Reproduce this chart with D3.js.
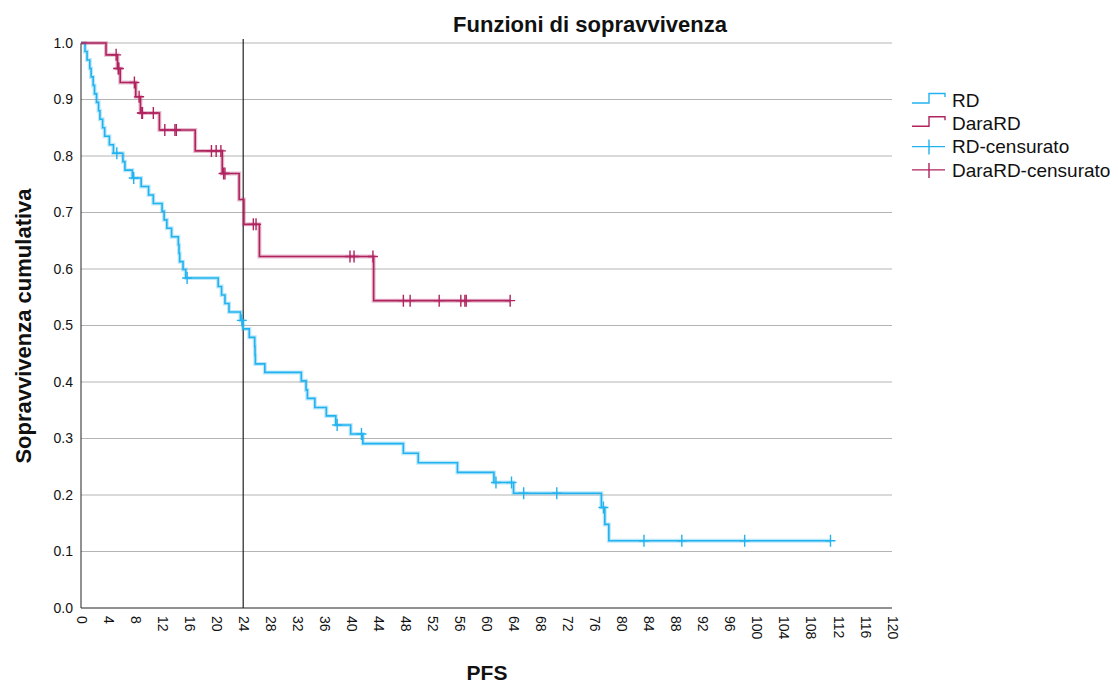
<!DOCTYPE html>
<html>
<head>
<meta charset="utf-8">
<script src="https://cdn.jsdelivr.net/npm/d3@7"></script>
<style>
  body { margin: 0; background: #fff; }
  #chart { width: 1118px; height: 684px; }
  text { font-family: "Liberation Sans", Arial, sans-serif; fill: #111; }
</style>
</head>
<body>
<div id="chart"></div>
<script>
"use strict";

// RD: Kaplan-Meier steps (time in months, cumulative survival after the step)
const rdTimes = [0, 0.6, 0.9, 1.3, 1.5, 1.8, 2.0, 2.3, 2.6, 2.8, 3.2, 3.5, 4.2, 4.8, 6.2, 6.5, 7.6, 8.9, 10.0, 10.7,
  12.0, 12.3, 12.7, 13.4, 14.4, 14.5, 14.6, 15.1, 15.5, 20.3, 20.8, 21.3, 21.9, 23.6, 24.0, 24.9, 25.7, 25.75, 25.8, 27.2,
  32.6, 33.3, 33.5, 34.6, 36.3, 37.7, 39.9, 41.7, 47.7, 49.9, 55.7, 61.1, 64.0, 77.0, 77.5, 78.1];
const rdSurv = [1.0, 0.985, 0.970, 0.955, 0.940, 0.925, 0.910, 0.895, 0.880, 0.865, 0.850, 0.835, 0.820, 0.805, 0.790, 0.775, 0.761, 0.746, 0.731, 0.716,
  0.702, 0.687, 0.672, 0.657, 0.643, 0.628, 0.613, 0.599, 0.584, 0.569, 0.554, 0.539, 0.524, 0.509, 0.494, 0.479, 0.463, 0.448, 0.432, 0.417,
  0.402, 0.386, 0.371, 0.355, 0.340, 0.324, 0.308, 0.291, 0.274, 0.257, 0.240, 0.222, 0.203, 0.178, 0.148, 0.119];
const rdCensored = [5.3, 7.8, 15.7, 23.8, 37.9, 41.5, 61.4, 63.7, 65.5, 70.4, 77.3, 83.3, 88.9, 98.2, 110.9];

// DaraRD
const daraTimes = [0, 3.7, 5.4, 5.8, 8.1, 8.8, 11.6, 16.9, 20.9, 23.4, 24.1, 26.4, 43.3];
const daraSurv = [1.0, 0.979, 0.955, 0.930, 0.905, 0.876, 0.846, 0.809, 0.769, 0.723, 0.679, 0.622, 0.544];
const daraCensored = [5.2, 5.5, 5.6, 7.9, 8.6, 9.0, 9.1, 10.7, 12.4, 13.9, 14.1, 19.3, 20.0, 20.7, 21.1, 21.3,
  25.5, 25.9, 39.8, 40.4, 43.2, 47.7, 48.7, 53.0, 56.2, 56.8, 57.0, 63.5];

const xTicks = d3.range(0, 121, 4);
const yTicks = d3.range(0, 11).map((i) => i / 10);
const refTime = 24;

const legendLabels = ["RD", "DaraRD", "RD-censurato", "DaraRD-censurato"];
const RD_COLOR = "#22b2ef";
const DARA_COLOR = "#b0235f";

window.addEventListener("load", draw);

// survival value of a step function at time t
function survAt(times, surv, t) {
  let s = surv[0];
  for (let i = 0; i < times.length; i++) {
    if (times[i] <= t) s = surv[i];
  }
  return s;
}

function buildCurve(times, surv, censored) {
  const pts = times.map((t, i) => [t, surv[i]]);
  const end = d3.max(censored);
  if (end > times[times.length - 1]) {
    pts.push([end, surv[surv.length - 1]]);
  }
  return pts;
}

function draw() {
  const w = 1118;
  const h = 684;
  const left = 81;
  const right = 892;
  const top = 43;
  const bottom = 608;

  const x = d3.scaleLinear().domain([0, 120]).range([left, right]);
  const y = d3.scaleLinear().domain([0, 1]).range([bottom, top]);

  const svg = d3
    .select("#chart")
    .append("svg")
    .attr("width", w)
    .attr("height", h);

  // grid lines
  svg
    .append("g")
    .selectAll("line")
    .data(yTicks.filter((v) => v > 0))
    .enter()
    .append("line")
    .attr("x1", left)
    .attr("x2", right)
    .attr("y1", (v) => y(v))
    .attr("y2", (v) => y(v))
    .attr("stroke", "#b4b4b4")
    .attr("stroke-width", 1);

  // axes
  const xAxis = svg
    .append("g")
    .attr("transform", `translate(0, ${bottom})`)
    .call(d3.axisBottom(x).tickValues(xTicks).tickSize(0).tickFormat(d3.format("d")));
  xAxis.select(".domain").remove();
  xAxis
    .selectAll("text")
    .attr("transform", "rotate(90)")
    .attr("x", 8)
    .attr("y", 0)
    .attr("dy", "0.35em")
    .style("text-anchor", "start")
    .style("font-size", "14px");

  const yAxis = svg
    .append("g")
    .attr("transform", `translate(${left}, 0)`)
    .call(d3.axisLeft(y).tickValues(yTicks).tickSize(0).tickPadding(8).tickFormat(d3.format(".1f")));
  yAxis.select(".domain").remove();
  yAxis.selectAll("text").style("font-size", "14px");

  svg
    .append("line")
    .attr("x1", left)
    .attr("x2", left)
    .attr("y1", top)
    .attr("y2", bottom)
    .attr("stroke", "#222");
  svg
    .append("line")
    .attr("x1", left)
    .attr("x2", right)
    .attr("y1", bottom)
    .attr("y2", bottom)
    .attr("stroke", "#222");

  // reference line at 24 months
  svg
    .append("line")
    .attr("x1", x(refTime))
    .attr("x2", x(refTime))
    .attr("y1", top - 4)
    .attr("y2", bottom)
    .attr("stroke", "#222")
    .attr("stroke-width", 1.2);

  const line = d3
    .line()
    .x((d) => x(d[0]))
    .y((d) => y(d[1]))
    .curve(d3.curveStepAfter);

  const series = [
    { times: rdTimes, surv: rdSurv, censored: rdCensored, color: RD_COLOR },
    { times: daraTimes, surv: daraSurv, censored: daraCensored, color: DARA_COLOR },
  ];

  series.forEach((s) => {
    const pts = buildCurve(s.times, s.surv, s.censored);
    // soft halo like the original export
    svg
      .append("path")
      .attr("d", line(pts))
      .attr("fill", "none")
      .attr("stroke", s.color)
      .attr("stroke-opacity", 0.3)
      .attr("stroke-width", 4);
    svg
      .append("path")
      .attr("d", line(pts))
      .attr("fill", "none")
      .attr("stroke", s.color)
      .attr("stroke-width", 1.6);

    svg
      .append("g")
      .selectAll("path")
      .data(s.censored)
      .enter()
      .append("path")
      .attr("d", (t) => {
        const cx = x(t);
        const cy = y(survAt(s.times, s.surv, t));
        return `M${cx - 5},${cy}H${cx + 5}M${cx},${cy - 6}V${cy + 6}`;
      })
      .attr("fill", "none")
      .attr("stroke", s.color)
      .attr("stroke-width", 1.4);
  });

  // title and axis labels
  svg
    .append("text")
    .text("Funzioni di sopravvivenza")
    .attr("x", 590)
    .attr("y", 32)
    .style("text-anchor", "middle")
    .style("font-size", "22px")
    .style("font-weight", "bold");

  svg
    .append("text")
    .text("PFS")
    .attr("x", 487)
    .attr("y", 680)
    .style("text-anchor", "middle")
    .style("font-size", "21px")
    .style("font-weight", "bold");

  svg
    .append("text")
    .text("Sopravvivenza cumulativa")
    .attr("transform", "translate(31, 326) rotate(-90)")
    .style("text-anchor", "middle")
    .style("font-size", "22px")
    .style("font-weight", "bold");

  // legend
  const legend = svg
    .append("g")
    .attr("transform", "translate(912, 100)")
    .selectAll("g")
    .data(legendLabels)
    .enter()
    .append("g")
    .attr("transform", (d, i) => `translate(0, ${i * 23.3})`);

  legend
    .append("path")
    .attr("d", (d, i) => (i < 2 ? "M0,3H17V-6.5H33V-3" : "M0,0H33M17,-7V8"))
    .attr("fill", "none")
    .attr("stroke", (d, i) => (i % 2 === 0 ? RD_COLOR : DARA_COLOR))
    .attr("stroke-width", 1.4);

  legend
    .append("text")
    .text((d) => d)
    .attr("x", 40)
    .attr("y", 0)
    .attr("dy", "0.35em")
    .style("font-size", "19px");
}
</script>
</body>
</html>
